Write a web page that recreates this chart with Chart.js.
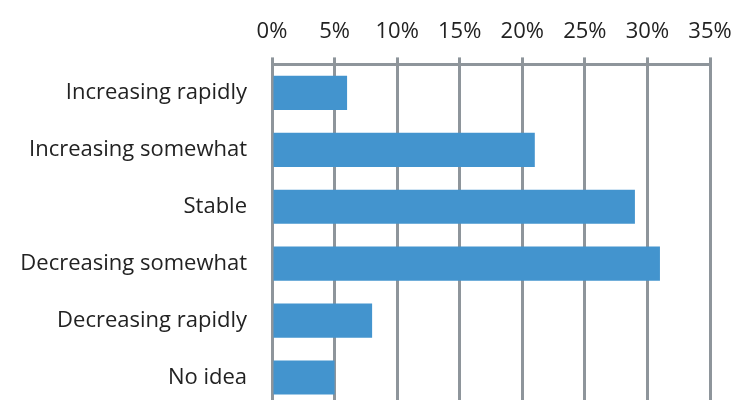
<!DOCTYPE html>
<html>
<head>
<meta charset="utf-8">
<script src="https://cdn.jsdelivr.net/npm/chart.js@4/dist/chart.umd.min.js"></script>
<style>
  html, body { margin: 0; padding: 0; background: #fff; overflow: hidden; }
  #wrap { width: 736px; height: 406px; position: relative; }
</style>
</head>
<body>
<div id="wrap"><canvas id="chart"></canvas></div>
<script>
const categories = [
  'Increasing rapidly',
  'Increasing somewhat',
  'Stable',
  'Decreasing somewhat',
  'Decreasing rapidly',
  'No idea',
];
const shares = [6, 21, 29, 31, 8, 5];
const xTicks = [0, 5, 10, 15, 20, 25, 30, 35];

const GRID = '#8e959b';
const TEXT = '#222222';
const FONT = 'Open Sans';

new Chart(document.getElementById('chart'), {
  type: 'bar',
  data: {
    labels: categories,
    datasets: [{
      data: shares,
      backgroundColor: '#4394ce',
      borderWidth: 0,
      barPercentage: 1,
      categoryPercentage: 0.6,
    }],
  },
  options: {
    indexAxis: 'y',
    responsive: true,
    maintainAspectRatio: false,
    animation: false,
    layout: { padding: { top: 7, right: 26, bottom: 0, left: 0 } },
    plugins: {
      legend: { display: false },
      tooltip: { enabled: false },
    },
    scales: {
      x: {
        position: 'top',
        min: xTicks[0],
        max: xTicks[xTicks.length - 1],
        afterBuildTicks: s => { s.ticks = xTicks.map(v => ({ value: v })); },
        afterFit: s => {
          s.paddingLeft = 0;
          s.paddingRight = 0;
        },
        ticks: {
          color: TEXT,
          font: { family: FONT, size: 22 },
          padding: 12,
          callback: v => v + '%',
        },
        grid: { color: GRID, lineWidth: 3, tickLength: 7, drawTicks: true },
        border: { color: GRID, width: 3 },
      },
      y: {
        afterFit: s => {
          s.width = 272;
          s.paddingTop = 0;
          s.paddingBottom = 0;
        },
        ticks: {
          color: TEXT,
          font: { family: FONT, size: 22 },
          padding: 25,
        },
        grid: { display: false, drawTicks: false },
        border: { display: false },
      },
    },
  },
});
</script>
</body>
</html>
